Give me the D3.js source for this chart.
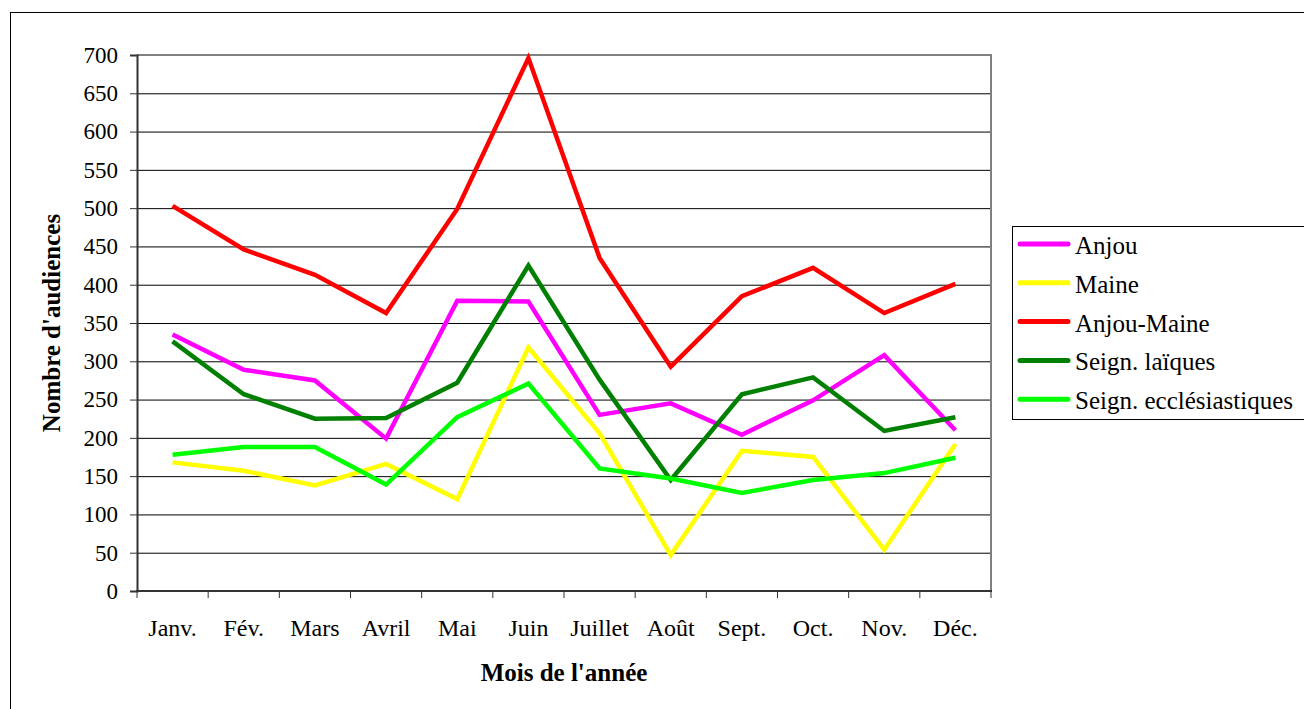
<!DOCTYPE html>
<html lang="fr">
  <head>
    <meta charset="UTF-8" />
    <title>Audiences par mois</title>
    <style>
      body {
        margin: 0;
        background: #fff;
      }
      svg text {
        font-family: "Liberation Serif", "Times New Roman", serif;
        fill: #000;
      }
    </style>
  </head>
  <body>
    <svg id="svg" width="1304" height="709"></svg>
    <script src="https://cdn.jsdelivr.net/npm/d3@7"></script>
    <script>
      // DATA
      const months = ["Janv.", "Fév.", "Mars", "Avril", "Mai", "Juin", "Juillet", "Août", "Sept.", "Oct.", "Nov.", "Déc."];
      const yTicks = [0, 50, 100, 150, 200, 250, 300, 350, 400, 450, 500, 550, 600, 650, 700];
      const anjou = [335, 289, 275, 199, 379, 378, 230, 245, 204, 249, 308, 210];
      const maine = [168, 157, 138, 166, 120, 318, 206, 47, 183, 175, 54, 192];
      const anjouMaine = [503, 446, 413, 363, 499, 696, 435, 293, 385, 422, 363, 401];
      const seignLaiques = [326, 257, 225, 226, 272, 425, 276, 145, 257, 279, 209, 227];
      const seignEccl = [178, 188, 188, 139, 227, 271, 160, 147, 128, 145, 154, 174];

      const series = [
        { name: "Anjou", values: anjou, color: "#ff00ff" },
        { name: "Maine", values: maine, color: "#ffff00" },
        { name: "Anjou-Maine", values: anjouMaine, color: "#ff0000" },
        { name: "Seign. laïques", values: seignLaiques, color: "#008000" },
        { name: "Seign. ecclésiastiques", values: seignEccl, color: "#00ff00" },
      ];

      // LAYOUT
      const PLOT = { left: 137, right: 991, top: 55, bottom: 591 };

      const svg = d3.select("#svg");

      // outer chart frame
      svg
        .append("rect")
        .attr("x", 10.5)
        .attr("y", 12.5)
        .attr("width", 1310)
        .attr("height", 710)
        .attr("fill", "none")
        .attr("stroke", "#000")
        .attr("stroke-width", 1);

      const x = d3.scaleBand().domain(months).range([PLOT.left, PLOT.right]);
      const y = d3.scaleLinear().domain([0, 700]).range([PLOT.bottom, PLOT.top]);

      // gridlines
      svg
        .append("g")
        .selectAll("line")
        .data(yTicks.filter((d) => d > 0))
        .enter()
        .append("line")
        .attr("x1", PLOT.left)
        .attr("x2", PLOT.right)
        .attr("y1", (d) => y(d) + 0.5)
        .attr("y2", (d) => y(d) + 0.5)
        .attr("stroke", "#000")
        .attr("stroke-width", 1);

      // plot border (top and right, grey)
      svg
        .append("path")
        .attr("d", `M${PLOT.left},${PLOT.top}H${PLOT.right}V${PLOT.bottom}`)
        .attr("fill", "none")
        .attr("stroke", "#808080")
        .attr("stroke-width", 2);

      // y axis
      const yAxis = svg
        .append("g")
        .attr("transform", `translate(${PLOT.left},0)`)
        .call(d3.axisLeft(y).tickValues(yTicks).tickSize(7).tickPadding(12));
      yAxis.select(".domain").attr("stroke", "#333").attr("stroke-width", 2);
      yAxis.selectAll(".tick line").attr("stroke", "#333");
      yAxis.selectAll("text").style("font-size", "23px").attr("font-family", null);

      // x axis: ticks on band edges, labels in band centres
      const xAxisG = svg.append("g").attr("transform", `translate(0,${PLOT.bottom})`);
      xAxisG
        .append("line")
        .attr("x1", PLOT.left - 1)
        .attr("x2", PLOT.right + 1)
        .attr("stroke", "#333")
        .attr("stroke-width", 2);
      xAxisG
        .selectAll(".edge")
        .data(months.map((m) => x(m)).concat([x(months[months.length - 1]) + x.bandwidth()]))
        .enter()
        .append("line")
        .attr("class", "edge")
        .attr("x1", (d) => d)
        .attr("x2", (d) => d)
        .attr("y1", 0)
        .attr("y2", 7)
        .attr("stroke", "#333");
      xAxisG
        .selectAll("text")
        .data(months)
        .enter()
        .append("text")
        .attr("x", (d) => x(d) + x.bandwidth() / 2)
        .attr("y", 45)
        .attr("text-anchor", "middle")
        .style("font-size", "24px")
        .text((d) => d);

      // axis titles
      svg
        .append("text")
        .attr("x", (PLOT.left + PLOT.right) / 2)
        .attr("y", 681)
        .attr("text-anchor", "middle")
        .style("font-size", "25px")
        .style("font-weight", "bold")
        .text("Mois de l'année");

      svg
        .append("text")
        .attr("transform", `translate(60,${(PLOT.top + PLOT.bottom) / 2}) rotate(-90)`)
        .attr("text-anchor", "middle")
        .style("font-size", "25px")
        .style("font-weight", "bold")
        .text("Nombre d'audiences");

      // lines
      const lineGen = d3
        .line()
        .x((d, i) => x(months[i]) + x.bandwidth() / 2)
        .y((d) => y(d));

      svg
        .append("g")
        .selectAll("path")
        .data(series)
        .enter()
        .append("path")
        .attr("d", (d) => lineGen(d.values))
        .attr("fill", "none")
        .attr("stroke", (d) => d.color)
        .attr("stroke-width", 4.5)
        .attr("stroke-linejoin", "miter");

      // legend
      const legend = svg.append("g").attr("transform", "translate(1012,226)");
      legend
        .append("rect")
        .attr("x", 0.5)
        .attr("y", 0.5)
        .attr("width", 300)
        .attr("height", 193)
        .attr("fill", "#fff")
        .attr("stroke", "#000");

      const items = legend
        .selectAll(".item")
        .data(series)
        .enter()
        .append("g")
        .attr("class", "item")
        .attr("transform", (d, i) => `translate(0,${18 + i * 38.8})`);
      items
        .append("line")
        .attr("x1", 8)
        .attr("x2", 56)
        .attr("stroke", (d) => d.color)
        .attr("stroke-width", 5)
        .attr("stroke-linecap", "round");
      items
        .append("text")
        .attr("x", 63)
        .attr("y", 10)
        .style("font-size", "25px")
        .text((d) => d.name);
    </script>
  </body>
</html>
